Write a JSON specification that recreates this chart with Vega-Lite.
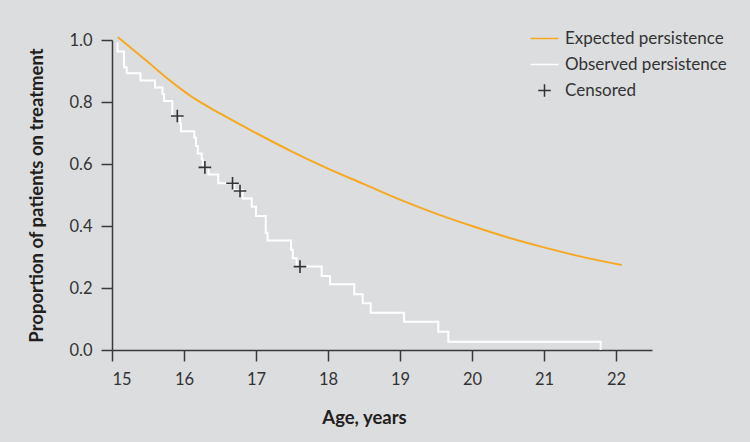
{
  "$schema": "https://vega.github.io/schema/vega-lite/v6.json",
  "width": 540,
  "height": 310,
  "autosize": {"type": "none"},
  "padding": {"left": 112, "top": 40, "right": 98, "bottom": 92},
  "background": "#dcdddf",
  "config": {
    "view": {"stroke": null},
    "font": "Lato",
    "axis": {
      "grid": false,
      "domainColor": "#3a3a3a",
      "domainWidth": 1.5,
      "tickColor": "#3a3a3a",
      "tickWidth": 1.5,
      "tickSize": 11,
      "labelFontSize": 16.5,
      "labelColor": "#333333",
      "labelFont": "Lato",
      "titleFont": "Lato",
      "titleFontSize": 18.5,
      "titleFontWeight": "bold",
      "titleColor": "#231f20"
    },
    "legend": {
      "labelFont": "Lato",
      "labelFontSize": 17,
      "labelColor": "#333333",
      "labelLimit": 400
    }
  },
  "data": {
    "values": [
      {"series": "Expected persistence", "age": 15.08, "p": 1.01},
      {"series": "Expected persistence", "age": 15.5, "p": 0.929},
      {"series": "Expected persistence", "age": 15.8, "p": 0.87},
      {"series": "Expected persistence", "age": 15.95, "p": 0.843},
      {"series": "Expected persistence", "age": 16.1, "p": 0.818},
      {"series": "Expected persistence", "age": 16.5, "p": 0.763},
      {"series": "Expected persistence", "age": 17.0, "p": 0.70},
      {"series": "Expected persistence", "age": 17.5, "p": 0.64},
      {"series": "Expected persistence", "age": 18.0, "p": 0.585},
      {"series": "Expected persistence", "age": 18.5, "p": 0.535},
      {"series": "Expected persistence", "age": 19.0, "p": 0.485},
      {"series": "Expected persistence", "age": 19.5, "p": 0.44},
      {"series": "Expected persistence", "age": 20.0, "p": 0.40},
      {"series": "Expected persistence", "age": 20.5, "p": 0.363},
      {"series": "Expected persistence", "age": 21.0, "p": 0.331},
      {"series": "Expected persistence", "age": 21.5, "p": 0.302},
      {"series": "Expected persistence", "age": 22.08, "p": 0.274},
      {"series": "Observed persistence", "age": 15.075, "p": 0.99},
      {"series": "Observed persistence", "age": 15.077, "p": 0.963},
      {"series": "Observed persistence", "age": 15.167, "p": 0.912},
      {"series": "Observed persistence", "age": 15.204, "p": 0.893},
      {"series": "Observed persistence", "age": 15.396, "p": 0.869},
      {"series": "Observed persistence", "age": 15.597, "p": 0.847},
      {"series": "Observed persistence", "age": 15.701, "p": 0.826},
      {"series": "Observed persistence", "age": 15.722, "p": 0.803},
      {"series": "Observed persistence", "age": 15.838, "p": 0.755},
      {"series": "Observed persistence", "age": 15.944, "p": 0.731},
      {"series": "Observed persistence", "age": 15.958, "p": 0.706},
      {"series": "Observed persistence", "age": 16.143, "p": 0.685},
      {"series": "Observed persistence", "age": 16.167, "p": 0.658},
      {"series": "Observed persistence", "age": 16.19, "p": 0.634},
      {"series": "Observed persistence", "age": 16.246, "p": 0.615},
      {"series": "Observed persistence", "age": 16.26, "p": 0.589},
      {"series": "Observed persistence", "age": 16.34, "p": 0.566},
      {"series": "Observed persistence", "age": 16.476, "p": 0.538},
      {"series": "Observed persistence", "age": 16.699, "p": 0.515},
      {"series": "Observed persistence", "age": 16.815, "p": 0.489},
      {"series": "Observed persistence", "age": 16.94, "p": 0.462},
      {"series": "Observed persistence", "age": 17.0, "p": 0.432},
      {"series": "Observed persistence", "age": 17.135, "p": 0.378},
      {"series": "Observed persistence", "age": 17.16, "p": 0.353},
      {"series": "Observed persistence", "age": 17.486, "p": 0.323},
      {"series": "Observed persistence", "age": 17.51, "p": 0.296},
      {"series": "Observed persistence", "age": 17.565, "p": 0.269},
      {"series": "Observed persistence", "age": 17.912, "p": 0.239},
      {"series": "Observed persistence", "age": 18.028, "p": 0.212},
      {"series": "Observed persistence", "age": 18.365, "p": 0.18},
      {"series": "Observed persistence", "age": 18.482, "p": 0.151},
      {"series": "Observed persistence", "age": 18.593, "p": 0.12},
      {"series": "Observed persistence", "age": 19.056, "p": 0.091},
      {"series": "Observed persistence", "age": 19.532, "p": 0.059},
      {"series": "Observed persistence", "age": 19.671, "p": 0.027},
      {"series": "Observed persistence", "age": 21.787, "p": 0.0},
      {"series": "Censored", "age": 15.907, "p": 0.755},
      {"series": "Censored", "age": 16.29, "p": 0.589},
      {"series": "Censored", "age": 16.674, "p": 0.538},
      {"series": "Censored", "age": 16.778, "p": 0.513},
      {"series": "Censored", "age": 17.611, "p": 0.269}
    ]
  },
  "encoding": {
    "x": {
      "field": "age",
      "type": "quantitative",
      "scale": {"domain": [15, 22.5], "nice": false, "zero": false},
      "axis": {
        "values": [15, 16, 17, 18, 19, 20, 21, 22],
        "format": "d",
        "title": "Age, years",
        "labelPadding": 10,
        "titlePadding": 21,
        "titleX": 252
      }
    },
    "y": {
      "field": "p",
      "type": "quantitative",
      "scale": {"domain": [0, 1], "nice": false},
      "axis": {
        "values": [0, 0.2, 0.4, 0.6, 0.8, 1.0],
        "format": ".1f",
        "title": "Proportion of patients on treatment",
        "labelPadding": 9,
        "titlePadding": 22
      }
    },
    "color": {
      "field": "series",
      "type": "nominal",
      "scale": {
        "domain": ["Expected persistence", "Observed persistence", "Censored"],
        "range": ["#f7a823", "#ffffff", "#333333"]
      },
      "legend": {
        "title": null,
        "orient": "none",
        "legendX": 424,
        "legendY": -10,
        "padding": 0,
        "symbolSize": 196,
        "symbolStrokeWidth": 1.5,
        "labelOffset": 12,
        "rowPadding": 8
      }
    }
  },
  "layer": [
    {
      "transform": [{"filter": "datum.series === 'Expected persistence'"}],
      "mark": {"type": "line", "strokeWidth": 2, "interpolate": "monotone"}
    },
    {
      "transform": [{"filter": "datum.series === 'Observed persistence'"}],
      "mark": {"type": "line", "strokeWidth": 2, "interpolate": "step-after"}
    },
    {
      "transform": [{"filter": "datum.series === 'Censored'"}],
      "mark": {"type": "point", "filled": false, "size": 196, "strokeWidth": 1.6, "opacity": 1},
      "encoding": {
        "shape": {
          "field": "series",
          "type": "nominal",
          "scale": {
            "domain": ["Expected persistence", "Observed persistence", "Censored"],
            "range": ["M-2,0L2,0", "M-2,0L2,0", "M-0.9,0L0.9,0M0,-0.9L0,0.9"]
          },
          "legend": {
            "title": null,
            "orient": "none",
            "legendX": 424,
            "legendY": -10,
            "padding": 0,
            "symbolSize": 196,
            "symbolStrokeWidth": 1.5,
            "labelOffset": 12,
            "rowPadding": 8
          }
        }
      }
    }
  ]
}
